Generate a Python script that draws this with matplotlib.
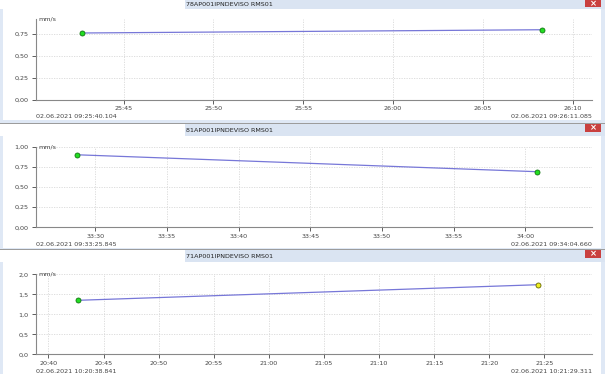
import matplotlib
matplotlib.use("Agg")
import matplotlib.pyplot as plt
from matplotlib.patches import Rectangle
from matplotlib.ticker import FuncFormatter, MultipleLocator

# ---- data ----
titles = ["78AP001IPNDEVISO RMS01", "81AP001IPNDEVISO RMS01", "71AP001IPNDEVISO RMS01"]
start_labels = ["02.06.2021 09:25:40.104", "02.06.2021 09:33:25.845", "02.06.2021 10:20:38.841"]
end_labels = ["02.06.2021 09:26:11.085", "02.06.2021 09:34:04.660", "02.06.2021 10:21:29.311"]
# x = seconds within the hour
x_ranges = [(1540.104, 1571.085), (2005.845, 2044.660), (1238.841, 1289.311)]
times1 = [1542.7, 1568.3]
vals1 = [0.756, 0.793]
times2 = [2008.7, 2040.8]
vals2 = [0.90, 0.69]
times3 = [1242.7, 1284.45]
vals3 = [1.35, 1.74]
y_limits = [(0, 0.915), (0, 1.0), (0, 2.0)]
y_steps = [0.25, 0.25, 0.5]
y_decimals = [2, 2, 1]
unit = "mm/s"

W, H = 605, 374
fig = plt.figure(figsize=(W / 100, H / 100), dpi=100)
fig.patch.set_facecolor("#dfe8f5")

def fx(x):
    return x / W

def fy(y):
    return 1 - y / H

def rect(x0, y0, x1, y1, color, z=-5):
    fig.patches.append(Rectangle((fx(x0), fy(y1)), fx(x1 - x0), (y1 - y0) / H,
                                 transform=fig.transFigure, facecolor=color,
                                 edgecolor="none", zorder=z))

line_color = "#7777d8"
tick_color = "#444444"
fs = 4.6

# panel layout in pixels: (title bar top, title bar bottom, white top, white bottom, axes top, axes bottom)
panels = [
    (0, 9, 9, 120, 19.0, 99.5),
    (124, 136, 136, 248, 146.7, 227.3),
    (250, 262, 262, 374, 274.3, 354.3),
]
series = [(times1, vals1), (times2, vals2), (times3, vals3)]
ax_left, ax_right = 35.7, 592.0

for i, (tb0, tb1, w0, w1, at, ab) in enumerate(panels):
    # separators
    if i > 0:
        rect(0, tb0 - 1.2, W, tb0, "#9c9c9c")
    # title bar
    rect(0, tb0, 185, tb1, "#ffffff")
    rect(185, tb0, W, tb1, "#dae4f2")
    fig.text(fx(186), fy((tb0 + tb1) / 2 + 0.5), titles[i], fontsize=fs, color="#222222",
             ha="left", va="center")
    # close button
    cb0 = tb0
    rect(585, cb0, 601, cb0 + 8 if i else 6.5, "#c9403f", z=-1)
    fig.text(fx(593), fy(cb0 + (4 if i else 3.2)), "×", fontsize=6, color="white",
             ha="center", va="center", fontweight="bold", zorder=2)
    # white panel
    rect(3, w0, 601, w1, "#ffffff")

    ax = fig.add_axes([fx(ax_left), fy(ab), fx(ax_right - ax_left), (ab - at) / H])
    ax.set_zorder(5)
    ax.set_facecolor("none")
    t, v = series[i]
    ax.plot(t, v, color=line_color, lw=0.9, zorder=3)
    ax.plot(t[0], v[0], "o", ms=3.6, mfc="#22dd22", mec="#117711", mew=0.6, zorder=4, clip_on=False)
    last_fc = "#eeee22" if i == 2 else "#22dd22"
    last_ec = "#666600" if i == 2 else "#117711"
    ax.plot(t[-1], v[-1], "o", ms=3.6, mfc=last_fc, mec=last_ec, mew=0.6, zorder=4, clip_on=False)
    ax.set_xlim(*x_ranges[i])
    ax.set_ylim(*y_limits[i])
    ax.xaxis.set_major_locator(MultipleLocator(5))
    ax.yaxis.set_major_locator(MultipleLocator(y_steps[i]))
    ax.xaxis.set_major_formatter(FuncFormatter(
        lambda x, p: f"{int(round(x)) // 60 % 60:02d}:{int(round(x)) % 60:02d}"))
    d = y_decimals[i]
    ax.yaxis.set_major_formatter(FuncFormatter(lambda y, p, d=d: f"{y:.{d}f}".replace(".", ",")))
    ax.grid(True, color="#d8d8d8", lw=0.6, ls=(0, (1.5, 1.5)))
    for s in ("top", "right"):
        ax.spines[s].set_visible(False)
    for s in ("left", "bottom"):
        ax.spines[s].set_color("#888888")
        ax.spines[s].set_linewidth(0.8)
    ax.tick_params(axis="both", labelsize=fs, colors=tick_color, length=3, width=0.6, pad=2)
    ax.text(0.005, 1.0, unit, transform=ax.transAxes, fontsize=fs, color=tick_color,
            ha="left", va="center")
    # date labels
    fig.text(fx(36), fy(ab + 17), start_labels[i], fontsize=fs, color=tick_color,
             ha="left", va="center")
    fig.text(fx(592), fy(ab + 17), end_labels[i], fontsize=fs, color=tick_color,
             ha="right", va="center")

fig.savefig("out.png", dpi=100, facecolor=fig.get_facecolor())
